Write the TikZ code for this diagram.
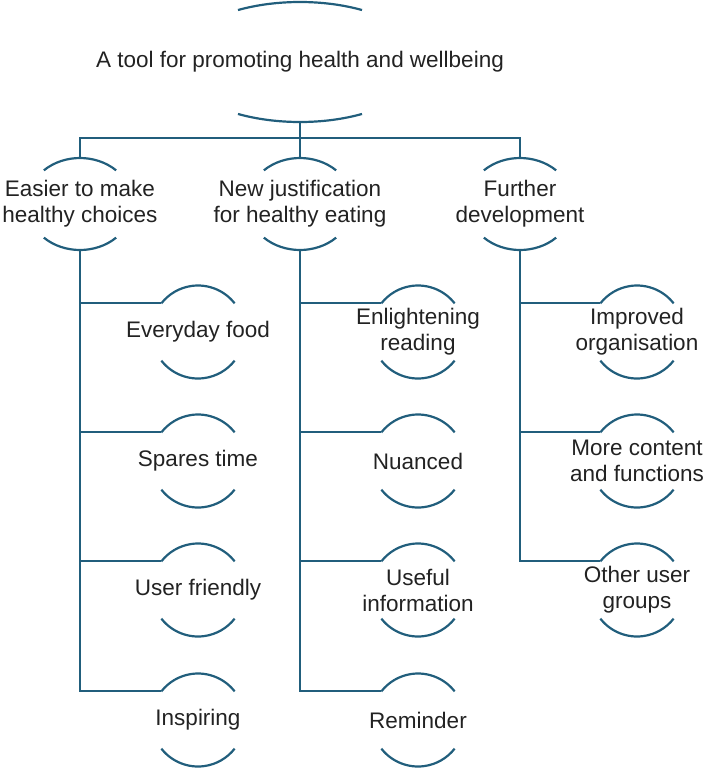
\documentclass[tikz,border=0pt]{standalone}
\usepackage{fontspec}
\setmainfont{Liberation Sans}
\usetikzlibrary{calc}
\definecolor{hiblue}{RGB}{33,94,124}
\definecolor{hitext}{RGB}{34,34,34}
\tikzset{
  label/.style={text=hitext, align=center, inner sep=0pt, font=\fontsize{22.5}{26}\selectfont},
  arcline/.style={draw=hiblue, line width=2.2pt},
  link/.style={draw=hiblue, line width=2.2pt}
}
% two arcs above and below a node, plus the points the links attach to
\newcommand{\hooparcs}[4]{%
  \draw[arcline] ([shift={(#4:#2 and #3)}]#1.center) arc[start angle=#4, end angle=180-#4, x radius=#2, y radius=#3];
  \draw[arcline] ([shift={(180+#4:#2 and #3)}]#1.center) arc[start angle=180+#4, end angle=360-#4, x radius=#2, y radius=#3];
  \coordinate (#1-top) at ([shift={(0,#3)}]#1.center);
  \coordinate (#1-bot) at ([shift={(0,-#3)}]#1.center);
  \coordinate (#1-in) at ([shift={(180-#4:#2 and #3)}]#1.center);
}
\begin{document}
\begin{tikzpicture}[x=1pt,y=1pt]
\useasboundingbox (0,0) rectangle (709,-769);
\node[label] (root) at (300,-62) {A tool for promoting health and wellbeing};
\node[label] (ease) at (80,-204) {Easier to make\\healthy choices};
\node[label] (just) at (300,-204) {New justification\\for healthy eating};
\node[label] (devel) at (520,-204) {Further\\development};
\node[label] (food) at (198,-332) {Everyday food};
\node[label] (time) at (198,-461) {Spares time};
\node[label] (friendly) at (198,-590) {User friendly};
\node[label] (inspire) at (198,-720) {Inspiring};
\node[label] (reading) at (418,-332) {Enlightening\\reading};
\node[label] (nuanced) at (418,-461) {Nuanced};
\node[label] (info) at (418,-590) {Useful\\information};
\node[label] (remind) at (418,-720) {Reminder};
\node[label] (organise) at (637,-332) {Improved\\organisation};
\node[label] (content) at (637,-461) {More content\\and functions};
\node[label] (groups) at (637,-590) {Other user\\groups};
\hooparcs{root}{124}{60}{60}
\hooparcs{ease}{53}{46}{47}
\hooparcs{just}{53}{46}{47}
\hooparcs{devel}{53}{46}{47}
\hooparcs{food}{46.5}{46.5}{38}
\hooparcs{time}{46.5}{46.5}{38}
\hooparcs{friendly}{46.5}{46.5}{38}
\hooparcs{inspire}{46.5}{46.5}{38}
\hooparcs{reading}{46.5}{46.5}{38}
\hooparcs{nuanced}{46.5}{46.5}{38}
\hooparcs{info}{46.5}{46.5}{38}
\hooparcs{remind}{46.5}{46.5}{38}
\hooparcs{organise}{46.5}{46.5}{38}
\hooparcs{content}{46.5}{46.5}{38}
\hooparcs{groups}{46.5}{46.5}{38}
% top level
\coordinate (bus) at (300,-138);
\draw[link] (root-bot) -- (bus);
\draw[link] (ease-top) |- (bus);
\draw[link] (just-top) -- (bus);
\draw[link] (devel-top) |- (bus);
% first column
\draw[link] (ease-bot) |- (inspire-in);
\draw[link] (ease-bot |- food-in) -- (food-in);
\draw[link] (ease-bot |- time-in) -- (time-in);
\draw[link] (ease-bot |- friendly-in) -- (friendly-in);
% second column
\draw[link] (just-bot) |- (remind-in);
\draw[link] (just-bot |- reading-in) -- (reading-in);
\draw[link] (just-bot |- nuanced-in) -- (nuanced-in);
\draw[link] (just-bot |- info-in) -- (info-in);
% third column
\draw[link] (devel-bot) |- (groups-in);
\draw[link] (devel-bot |- organise-in) -- (organise-in);
\draw[link] (devel-bot |- content-in) -- (content-in);
\end{tikzpicture}
\end{document}
